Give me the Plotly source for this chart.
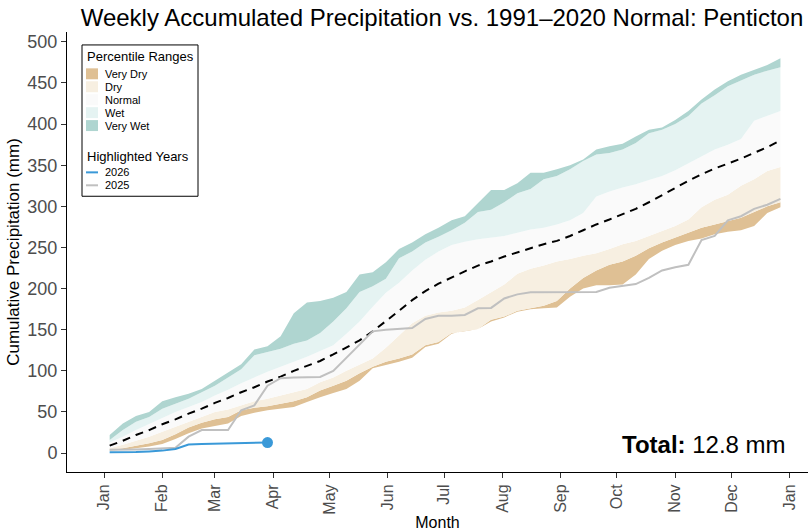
import plotly.graph_objects as go
import pandas as pd

# ---------------- data ----------------
weeks = pd.date_range("2026-01-04", periods=52, freq="7D")

p_min = [3, 4, 6, 8, 11, 17, 24, 30, 33, 36, 45, 49, 52, 54, 56, 62, 68, 73, 78, 88,
         103, 107, 111, 116, 129, 133, 145, 149, 151, 160, 165, 172, 175, 176, 177, 190,
         200, 204, 204, 205, 217, 236, 246, 253, 258, 261, 266, 269, 271, 276, 292, 299]
p10 = [4, 6, 9, 12, 16, 23, 31, 37, 41, 44, 52, 55, 57, 60, 63, 68, 76, 82, 88, 97,
       105, 111, 115, 120, 131, 135, 146, 148, 151, 162, 166, 173, 176, 179, 185, 200,
       213, 222, 229, 233, 240, 249, 256, 262, 268, 274, 278, 282, 286, 293, 300, 305]
p25 = [6, 10, 15, 20, 26, 32, 38, 44, 50, 53, 58, 63, 66, 70, 74, 78, 86, 92, 100, 108,
       115, 128, 143, 158, 167, 171, 173, 177, 186, 195, 205, 218, 224, 228, 233, 236,
       240, 243, 248, 254, 258, 264, 270, 276, 284, 299, 308, 314, 325, 333, 343, 348]
p75 = [13, 20, 28, 35, 43, 50, 56, 62, 70, 77, 85, 92, 99, 105, 111, 117, 124, 131, 145, 160,
       178, 195, 207, 222, 235, 245, 253, 257, 260, 262, 264, 268, 272, 274, 278, 283,
       292, 312, 318, 323, 327, 332, 337, 344, 352, 360, 369, 375, 382, 404, 410, 416]
p90 = [16, 28, 38, 44, 54, 60, 66, 74, 82, 92, 102, 119, 123, 127, 133, 137, 146, 160, 176, 196,
       203, 212, 237, 245, 256, 263, 271, 280, 293, 296, 305, 316, 321, 333, 337, 345,
       355, 363, 365, 369, 377, 389, 393, 400, 410, 425, 435, 446, 453, 460, 465, 469]
p_max = [22, 36, 45, 50, 63, 68, 72, 78, 88, 98, 108, 126, 130, 142, 170, 183, 185, 189, 196, 217,
         220, 232, 248, 256, 266, 274, 283, 288, 304, 320, 320, 328, 341, 341, 345, 350,
         357, 369, 373, 376, 385, 393, 396, 405, 416, 430, 442, 452, 460, 466, 472, 480]
median = [9, 15, 22, 28, 35, 41, 48, 54, 61, 67, 74, 80, 87, 93, 100, 106, 112, 120, 128, 137,
          148, 160, 173, 186, 197, 206, 214, 221, 228, 233, 239, 244, 249, 254, 258, 264,
          271, 278, 284, 291, 297, 305, 314, 322, 331, 339, 346, 352, 358, 365, 372, 380]
year_2025 = [4, 4, 4.5, 5, 5.5, 6.5, 20, 28, 28, 28, 52, 58, 82, 91, 92, 92, 92.5, 100, 116, 132,
             148, 150, 151, 152, 163, 167, 167, 168, 176, 176.5, 188, 193, 195.5, 195.7, 195.7, 195.7,
             195.7, 196, 201, 203, 205.5, 213, 222, 226, 229, 259, 264, 283, 288, 297, 302, 309]
year_2026 = [1.0, 1.0, 1.2, 2.0, 3.0, 5.0, 10.5, 11.0, 11.5, 12.0, 12.3, 12.5, 12.8]
total_2026 = 12.8

band_names = ["Very Dry", "Dry", "Normal", "Wet", "Very Wet"]
band_colors = ["#dfc094", "#f7efe1", "#fafafa", "#e5f3f2", "#afd5d0"]
month_labels = ["Jan", "Feb", "Mar", "Apr", "May", "Jun", "Jul", "Aug", "Sep", "Oct", "Nov", "Dec", "Jan"]
month_ticks = pd.date_range("2026-01-01", periods=13, freq="MS")
y_ticks = [0, 50, 100, 150, 200, 250, 300, 350, 400, 450, 500]
color_2026 = "#3a99d8"
color_2025 = "#c0c0c0"

FONT = "Liberation Sans, Arial, sans-serif"

# ---------------- figure ----------------
fig = go.Figure()
fig.add_trace(go.Scatter(x=weeks, y=p_min, mode="lines", line=dict(width=0),
                         showlegend=False, hoverinfo="skip"))
for upper, name, col in zip([p10, p25, p75, p90, p_max], band_names, band_colors):
    fig.add_trace(go.Scatter(x=weeks, y=upper, mode="lines", line=dict(width=0),
                             fill="tonexty", fillcolor=col, name=name, showlegend=False))

fig.add_trace(go.Scatter(x=weeks, y=median, mode="lines",
                         line=dict(color="black", width=2, dash="8px,6px"),
                         name="Normal (median)", showlegend=False))
fig.add_trace(go.Scatter(x=weeks, y=year_2025, mode="lines",
                         line=dict(color=color_2025, width=2), name="2025", showlegend=False))
n26 = len(year_2026)
fig.add_trace(go.Scatter(x=weeks[:n26], y=year_2026, mode="lines",
                         line=dict(color=color_2026, width=2), name="2026", showlegend=False))
fig.add_trace(go.Scatter(x=[weeks[n26 - 1]], y=[year_2026[-1]], mode="markers",
                         marker=dict(color=color_2026, size=11), showlegend=False))

# ---------------- manual legend ----------------
L, T, W, H = 67, 32, 741, 442


def px(x):
    return (x - L) / W


def py(y):
    return (T + H - y) / H


shapes = [dict(type="rect", xref="paper", yref="paper", x0=px(82), x1=px(198), y0=py(197), y1=py(45),
               line=dict(color="black", width=1), fillcolor="white", layer="above")]
annotations = [dict(text="Percentile Ranges", xref="paper", yref="paper", x=px(85), y=py(57),
                    xanchor="left", yanchor="middle", showarrow=False,
                    font=dict(family=FONT, size=13, color="black"))]
for i, (name, col) in enumerate(zip(band_names, band_colors)):
    cy = 74 + 13 * i
    shapes.append(dict(type="rect", xref="paper", yref="paper", x0=px(86), x1=px(98),
                       y0=py(cy + 5.5), y1=py(cy - 5.5), line=dict(width=0), fillcolor=col, layer="above"))
    annotations.append(dict(text=name, xref="paper", yref="paper", x=px(103), y=py(cy),
                            xanchor="left", yanchor="middle", showarrow=False,
                            font=dict(family=FONT, size=11, color="black")))
annotations.append(dict(text="Highlighted Years", xref="paper", yref="paper", x=px(85), y=py(157),
                        xanchor="left", yanchor="middle", showarrow=False,
                        font=dict(family=FONT, size=13, color="black")))
for i, (name, col) in enumerate([("2026", color_2026), ("2025", color_2025)]):
    cy = 173 + 13 * i
    shapes.append(dict(type="line", xref="paper", yref="paper", x0=px(86), x1=px(98),
                       y0=py(cy), y1=py(cy), line=dict(color=col, width=2), layer="above"))
    annotations.append(dict(text=name, xref="paper", yref="paper", x=px(103), y=py(cy),
                            xanchor="left", yanchor="middle", showarrow=False,
                            font=dict(family=FONT, size=11, color="black")))

annotations.append(dict(text=f"<b>Total:</b> {total_2026} mm", xref="paper", yref="paper",
                        x=px(788), y=py(446), xanchor="right", yanchor="middle", showarrow=False,
                        font=dict(family=FONT, size=24, color="black")))

fig.update_layout(
    width=810, height=531,
    margin=dict(l=L, r=810 - L - W, t=T, b=531 - T - H),
    paper_bgcolor="white", plot_bgcolor="white",
    font=dict(family=FONT, color="black"),
    title=dict(text="Weekly Accumulated Precipitation vs. 1991\u20132020 Normal: Penticton",
               xref="container", x=442 / 810, xanchor="center", y=1 - 18 / 531, yanchor="middle",
               font=dict(family=FONT, size=24, color="black")),
    shapes=shapes, annotations=annotations,
    xaxis=dict(type="date", range=["2025-12-12 07:00", "2027-01-10 16:00"],
               tickvals=list(month_ticks), ticktext=month_labels, tickangle=-90,
               ticks="outside", ticklen=5, tickcolor="#333333", showline=True,
               linecolor="black", linewidth=1, showgrid=False, zeroline=False,
               tickfont=dict(family=FONT, size=16, color="#4d4d4d"),
               title=dict(text="Month", font=dict(family=FONT, size=16, color="black"), standoff=3)),
    yaxis=dict(range=[-23, 512], tickvals=y_ticks, ticks="outside", ticklen=5,
               tickcolor="#333333", showline=True, linecolor="black", linewidth=1,
               showgrid=False, zeroline=False,
               tickfont=dict(family=FONT, size=18, color="#4d4d4d"),
               title=dict(text="Cumulative Precipitation (mm)",
                          font=dict(family=FONT, size=17, color="black"), standoff=3)),
)

fig.write_html("out.html", config={"displayModeBar": False},
               post_script="document.body.style.margin='0';")
